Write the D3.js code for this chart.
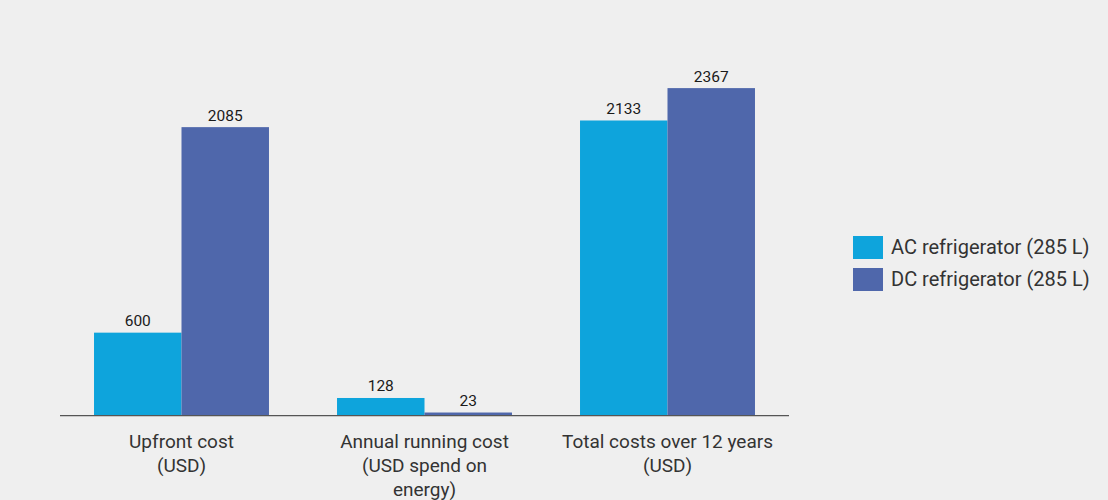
<!DOCTYPE html>
<html><head><meta charset="utf-8">
<script src="https://cdn.jsdelivr.net/npm/d3@7"></script>
<style>
html,body{margin:0;padding:0;background:#efefef;}
svg{display:block;font-family:Roboto, "Noto Sans", sans-serif;}
</style></head>
<body><svg id="c" width="1108" height="500"></svg>
<script>
const categories = [["Upfront cost","(USD)"],["Annual running cost","(USD spend on","energy)"],["Total costs over 12 years","(USD)"]];
const seriesNames = ["AC refrigerator (285 L)","DC refrigerator (285 L)"];
const acValues = [600,128,2133];
const dcValues = [2085,23,2367];
const colors = ["#0ea4dc","#4f67ab"];

const svg = d3.select("#c");
svg.append("rect").attr("width",1108).attr("height",500).attr("fill","#efefef");
const x0 = d3.scaleBand().domain(d3.range(categories.length)).range([60,789]).paddingInner(0.28).paddingOuter(0.14);
const x1 = d3.scaleBand().domain([0,1]).range([0,x0.bandwidth()]);
const y = d3.scaleLinear().domain([0,2500]).range([415.7,69.7]);
const series = [acValues, dcValues];

const g = svg.append("g");
series.forEach((vals,si)=>{
  vals.forEach((v,i)=>{
    const bx = x0(i)+x1(si);
    g.append("rect").attr("x",bx).attr("y",y(v)).attr("width",x1.bandwidth()).attr("height",y(0)-y(v)).attr("fill",colors[si]);
    g.append("text").attr("x",bx+x1.bandwidth()/2).attr("y",y(v)-6.5).attr("text-anchor","middle")
      .attr("font-size",15.5).attr("fill","#1a1a1a").text(v);
  });
});
// axis
const axis = svg.append("g").attr("transform",`translate(0,${y(0)})`).call(d3.axisBottom(x0).tickSize(0).tickFormat(""));
axis.select(".domain").attr("stroke","#555").attr("stroke-width",1.3).attr("d","M60,0H789");
categories.forEach((lines,i)=>{
  const t = svg.append("text").attr("text-anchor","middle").attr("font-size",19).attr("fill","#333");
  lines.forEach((l,j)=>{
    t.append("tspan").attr("x",x0(i)+x0.bandwidth()/2).attr("y",448+j*24).text(l);
  });
});
// legend
seriesNames.forEach((n,i)=>{
  const ly = 236+i*32;
  svg.append("rect").attr("x",853).attr("y",ly).attr("width",30).attr("height",23).attr("fill",colors[i]);
  svg.append("text").attr("x",891).attr("y",ly+18).attr("font-size",20).attr("fill","#333").text(n);
});
</script></body></html>
